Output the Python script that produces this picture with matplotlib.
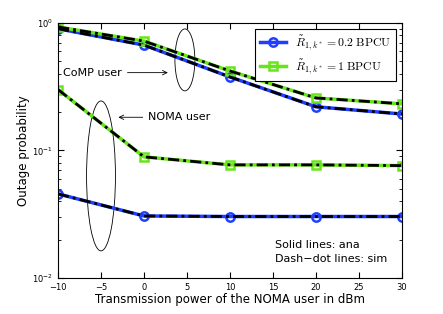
import numpy as np
import matplotlib
matplotlib.use('Agg')
import matplotlib.pyplot as plt
from matplotlib.patches import Ellipse

plt.rcParams['mathtext.fontset'] = 'cm'
plt.rcParams['font.family'] = 'DejaVu Sans'

power = [-10, 0, 10, 20, 30]
comp_02 = [0.90, 0.67, 0.377, 0.22, 0.193]
comp_1 = [0.93, 0.72, 0.42, 0.258, 0.232]
noma_02 = [0.0456, 0.0306, 0.0303, 0.0303, 0.0303]
noma_1 = [0.30, 0.089, 0.077, 0.077, 0.076]

blue = '#1f3fff'
green = '#66e619'

fig = plt.figure(figsize=(4.43, 3.14), dpi=100)
ax = fig.add_axes([0.131, 0.115, 0.776, 0.812])

ax.plot(power, comp_02, '-o', color=blue, lw=2.5, ms=6, mfc='none', mew=1.8,
        label=r'$\tilde{R}_{1,k^*}=0.2\ \mathrm{BPCU}$')
ax.plot(power, comp_1, '-s', color=green, lw=2.5, ms=5.5, mfc='none', mew=1.8,
        label=r'$\tilde{R}_{1,k^*}=1\ \mathrm{BPCU}$')
ax.plot(power, noma_02, '-o', color=blue, lw=2.5, ms=6, mfc='none', mew=1.8)
ax.plot(power, noma_1, '-s', color=green, lw=2.5, ms=5.5, mfc='none', mew=1.8)

# simulation curves on top
for s in [comp_02, comp_1, noma_02, noma_1]:
    ax.plot(power, s, '-.', color='black', lw=2, dashes=(4, 1.5, 1, 1.5))

ax.set_yscale('log')
ax.set_xlim(-10, 30)
ax.set_ylim(1e-2, 1)
ax.set_xticks(np.arange(-10, 31, 5))
ax.tick_params(which='both', direction='in', top=True, right=True, labelsize=6)
ax.tick_params(which='major', length=4)
ax.tick_params(which='minor', length=2)

ax.set_xlabel('Transmission power of the NOMA user in dBm', fontsize=8.5, labelpad=1)
ax.set_ylabel('Outage probability', fontsize=8.5, labelpad=2)

leg = ax.legend(loc='upper right', fontsize=8.5, fancybox=False, edgecolor='black',
                handlelength=2.2, borderaxespad=0.5, framealpha=1)
leg.get_frame().set_linewidth(0.8)

# ellipses marking groups (axes coordinates)
ax.add_patch(Ellipse((0.369, 0.855), 0.058, 0.243, transform=ax.transAxes,
                     fill=False, lw=0.6, color='black'))
ax.add_patch(Ellipse((0.125, 0.40), 0.084, 0.588, transform=ax.transAxes,
                     fill=False, lw=0.6, color='black'))

ax.annotate('CoMP user', xy=(3.1, 10 ** -0.39), xytext=(-9.4, 10 ** -0.39),
            fontsize=8, va='center', ha='left',
            arrowprops=dict(arrowstyle='->', lw=0.6, color='black'))
ax.annotate('NOMA user', xy=(-3.3, 10 ** -0.74), xytext=(0.5, 10 ** -0.74),
            fontsize=8, va='center', ha='left',
            arrowprops=dict(arrowstyle='->', lw=0.6, color='black'))

ax.text(15.3, 10 ** -1.74, 'Solid lines: ana', fontsize=8, va='center')
ax.text(15.3, 10 ** -1.85, 'Dash\u2212dot lines: sim', fontsize=8, va='center')

fig.savefig('out.png', dpi=100)
